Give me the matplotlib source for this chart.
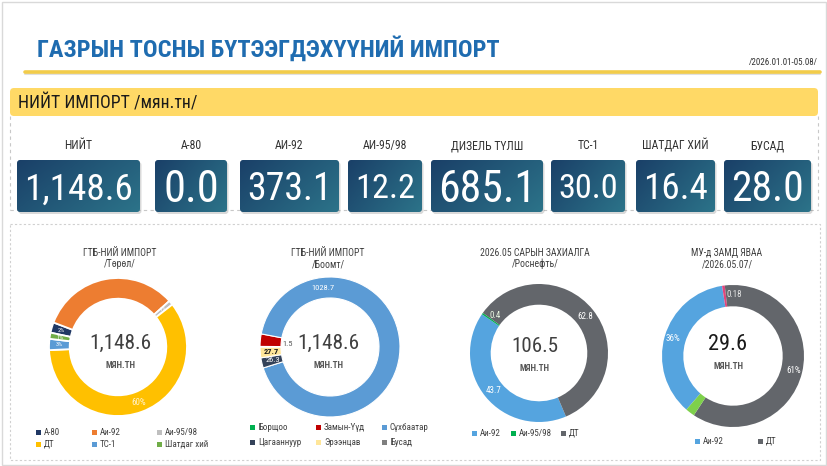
import matplotlib
matplotlib.use('Agg')
import matplotlib.pyplot as plt
from matplotlib import font_manager as fm
from matplotlib.patches import FancyBboxPatch, Rectangle
from matplotlib.colors import LinearSegmentedColormap
import numpy as np

# ---------------- data ----------------
title = 'ГАЗРЫН ТОСНЫ БҮТЭЭГДЭХҮҮНИЙ ИМПОРТ'
period = '/2026.01.01-05.08/'
section = 'НИЙТ ИМПОРТ /мян.тн/'
unit = 'МЯН.ТН'

kpi_labels = ['НИЙТ', 'А-80', 'АИ-92', 'АИ-95/98', 'ДИЗЕЛЬ ТҮЛШ', 'ТС-1', 'ШАТДАГ ХИЙ', 'БУСАД']
kpi_values = [1148.6, 0.0, 373.1, 12.2, 685.1, 30.0, 16.4, 28.0]

type_title = ['ГТБ-НИЙ ИМПОРТ', '/Төрөл/']
type_labels = ['А-80', 'Аи-92', 'Аи-95/98', 'ДТ', 'ТС-1', 'Шатдаг хий']
type_values = [28.0, 373.1, 12.2, 685.1, 30.0, 16.4]
type_total = 1148.6

port_title = ['ГТБ-НИЙ ИМПОРТ', '/Боомт/']
port_labels = ['Борщоо', 'Замын-Үүд', 'Сүхбаатар', 'Цагааннуур', 'Эрээнцав', 'Бусад']
port_values = [1.5, 32.0, 1028.7, 26.3, 27.7, 0.0]
port_total = 1148.6

order_title = ['2026.05 САРЫН ЗАХИАЛГА', '/Роснефть/']
order_labels = ['Аи-92', 'Аи-95/98', 'ДТ']
order_values = [43.7, 0.4, 62.8]
order_total = 106.5

transit_title = ['МУ-д ЗАМД ЯВАА', '/2026.05.07/']
transit_labels = ['Аи-92', 'Бусад', 'ДТ', 'Аи-95/98']
transit_values = [10.7, 0.18, 18.1, 0.62]
transit_legend = ['Аи-92', 'ДТ']
transit_total = 29.6

# ---------------- style ----------------
W, H = 827, 466
avail = {f.name for f in fm.fontManager.ttflist}


def pick(cands, default):
    for c in cands:
        if c in avail:
            return c
    return default


NARROW = pick(['Roboto Condensed', 'Liberation Sans Narrow', 'Arial Narrow',
               'Open Sans Condensed'], 'Roboto')
FAM = [NARROW, 'DejaVu Sans']
BOLDFAM = [pick(['Roboto Condensed', 'Liberation Sans Narrow', 'Roboto'], 'Roboto'), 'DejaVu Sans']

type_colors = ['#203864', '#ED7D31', '#BFBFBF', '#FFC000', '#5B9BD5', '#70AD47']
port_colors = ['#00B050', '#C00000', '#5B9BD5', '#344259', '#FFE699', '#7F7F7F']
order_colors = ['#55A4DF', '#00B050', '#63666B']
transit_colors = ['#55A4DF', '#E0457B', '#63666B', '#7ED04B']

fig = plt.figure(figsize=(W / 100, H / 100), dpi=100)
fig.patch.set_facecolor('white')
ax = fig.add_axes([0, 0, 1, 1])
ax.set_xlim(0, W)
ax.set_ylim(H, 0)
ax.axis('off')
renderer = fig.canvas.get_renderer()


def fit(t, max_w, max_fs):
    t.set_fontsize(max_fs)
    w = t.get_window_extent(renderer).width
    if w > max_w:
        t.set_fontsize(max_fs * max_w / w)
    return t


# page border
ax.add_patch(Rectangle((1.5, 1.5), W - 3, H - 3, fc='none', ec='#D9D9D9', lw=1))

# title
t = ax.text(37, 57, title, color='#1F6CB0', fontweight='bold', ha='left', va='baseline',
            family=BOLDFAM)
fit(t, 463, 18)
ax.text(818, 65, period, ha='right', va='baseline', fontsize=6.5, color='#333333', family=FAM)
ax.plot([25, 820], [73.5, 73.5], color='#000000', alpha=0.12, lw=1.5, solid_capstyle='round')
ax.plot([25, 820], [72, 72], color='#F2CC4A', lw=2.6, solid_capstyle='round')

# section header bar
ax.add_patch(FancyBboxPatch((10, 88), 808, 28, boxstyle='round,pad=0,rounding_size=4',
                            fc='#FFD966', ec='none'))
t = ax.text(18, 108, section, ha='left', va='baseline', color='#1A1A1A', family=FAM)
fit(t, 178, 13)

# dashed panels
dash = dict(color='#C8C8C8', lw=0.8, ls=(0, (3, 3)))
ax.plot([10, 10], [116, 210], **dash)
ax.plot([818, 818], [116, 210], **dash)
ax.plot([10, 818], [210, 210], **dash)
ax.add_patch(Rectangle((10, 224), 810, 236, fc='none', ec='#D0D0D0', lw=0.8, ls=(0, (2, 2))))

# KPI boxes
box_x = [(17, 140), (155, 227), (240, 339), (348, 422), (431, 543), (551, 625), (636, 715), (724, 811)]
box_top, box_h = 160, 52
cmap_box = LinearSegmentedColormap.from_list('box', ['#1A4068', '#2C7389'])
gx, gy = np.meshgrid(np.linspace(0, 1, 60), np.linspace(0, 1, 30))
grad = 0.65 * gx + 0.35 * gy
for (x0, x1), lab, val in zip(box_x, kpi_labels, kpi_values):
    w = x1 - x0
    cx = (x0 + x1) / 2
    ax.add_patch(FancyBboxPatch((x0 + 1.5, box_top + 2), w, box_h,
                                boxstyle='round,pad=0,rounding_size=3',
                                fc='#000000', alpha=0.15, ec='none', zorder=2))
    p = FancyBboxPatch((x0, box_top), w, box_h, boxstyle='round,pad=0,rounding_size=3',
                       fc='none', ec='none', zorder=3)
    ax.add_patch(p)
    im = ax.imshow(grad, extent=(x0, x1, box_top + box_h, box_top), cmap=cmap_box,
                   aspect='auto', origin='upper', zorder=3, interpolation='bilinear')
    im.set_clip_path(p)
    t = ax.text(cx, 0, f'{val:,.1f}', ha='center', va='baseline', color='white',
                family=FAM, zorder=4)
    fit(t, w - 14, 32)
    fs = t.get_fontsize()
    t.set_y(box_top + box_h / 2 + fs * 0.5)
    tl = ax.text(cx, 149, lab, ha='center', va='baseline', color='#333333', family=FAM)
    fit(tl, 200, 8.5)

ax.set_xlim(0, W)
ax.set_ylim(H, 0)

RING = 0.3


def donut(cx, cy, r, values, colors, start, edge_lw):
    a = fig.add_axes([(cx - r) / W, 1 - (cy + r) / H, 2 * r / W, 2 * r / H])
    wedges, _ = a.pie(values, colors=colors, startangle=start, counterclock=False,
                      wedgeprops=dict(width=RING, edgecolor='white', linewidth=edge_lw,
                                      clip_on=False))
    a.set_xlim(-1, 1)
    a.set_ylim(-1, 1)
    a.axis('off')
    return a, wedges


def wlabel(a, w, text, r=0.855, dang=0.0, **kw):
    ang = np.deg2rad((w.theta1 + w.theta2) / 2 + dang)
    a.text(r * np.cos(ang), r * np.sin(ang), text, ha='center', va='center',
           family=FAM, clip_on=False, **kw)


def centre(x, y, total, color, maxw):
    t = ax.text(x, y, f'{total:,.1f}', ha='center', va='baseline', color=color, family=FAM)
    fit(t, maxw, 20)
    ax.text(x, y + 19, unit, ha='center', va='baseline', color='#595959', fontsize=6.5,
            fontweight='bold', family=FAM)


def titles(x, lines):
    ax.text(x, 256, lines[0], ha='center', va='baseline', fontsize=7, color='#404040', family=FAM)
    ax.text(x, 267, lines[1], ha='center', va='baseline', fontsize=7, color='#404040', family=FAM)


def legend(labels, colors, cols_x, rows_y, ncol):
    for i, (lab, col) in enumerate(zip(labels, colors)):
        x = cols_x[i % ncol]
        y = rows_y[i // ncol]
        ax.add_patch(Rectangle((x - 2.5, y - 2.5), 5, 5, fc=col, ec='none'))
        ax.text(x + 6, y + 2.6, lab, ha='left', va='baseline', fontsize=6.5,
                color='#404040', family=FAM)


# ---- chart 1: by type ----
a1, w1 = donut(118, 347, 69, type_values, type_colors, 168, 1.3)
tsum = sum(type_values)
for i, (w, v) in enumerate(zip(w1, type_values)):
    if type_labels[i] == 'Аи-92':
        continue
    pct = f'{v / tsum * 100:.0f}%'
    if v / tsum > 0.2:
        wlabel(a1, w, pct, color='#FFF2CC', fontsize=6.5)
    else:
        wlabel(a1, w, pct, color='white', fontsize=4.5)
titles(120, type_title)
centre(120, 349, type_total, '#404040', 62)
legend(type_labels, type_colors, [38, 94, 159], [432, 444], 3)

# ---- chart 2: by port ----
a2, w2 = donut(330, 347, 70, port_values, port_colors, 180, 0.8)
for w, v, lab in zip(w2, port_values, port_labels):
    if lab == 'Сүхбаатар':
        wlabel(a2, w, f'{v:.1f}', color='white', fontsize=6,
               dang=97 - (w.theta1 + w.theta2) / 2)
    elif lab == 'Эрээнцав':
        wlabel(a2, w, f'{v:.1f}', color='#1A1A1A', fontsize=6, fontweight='bold', r=0.84)
    elif lab == 'Цагааннуур':
        wlabel(a2, w, f'{v:.1f}', color='white', fontsize=6, r=0.84)
    elif lab == 'Борщоо':
        wlabel(a2, w, f'{v:.1f}', color='#595959', fontsize=6, r=0.6, dang=-4)
titles(328, port_title)
centre(328, 349, port_total, '#404040', 62)
legend(port_labels, port_colors, [252, 318, 384], [427, 442], 3)

# ---- chart 3: order ----
a3, w3 = donut(539, 353, 69, order_values, order_colors, -67, 0)
for w, v, lab in zip(w3, order_values, order_labels):
    if lab == 'Аи-95/98':
        wlabel(a3, w, f'{v:.1f}', color='#E8F4E0', fontsize=6.5, dang=-6, r=0.84)
    else:
        wlabel(a3, w, f'{v:.1f}', color='white', fontsize=6.5)
titles(535, order_title)
centre(535, 352, order_total, '#404040', 47)
legend(order_labels, order_colors, [474, 513, 563], [433], 3)

# ---- chart 4: in transit ----
a4, w4 = donut(733, 356, 71, transit_values, transit_colors, -131, 0)
ttot = sum(transit_values)
for w, v, lab in zip(w4, transit_values, transit_labels):
    if lab in transit_legend:
        wlabel(a4, w, f'{v / ttot * 100:.0f}%', color='white', fontsize=6.5, r=0.88)
    elif lab == 'Бусад':
        wlabel(a4, w, f'{v:.2f}', color='#E6E6E6', fontsize=6.5, r=0.86, dang=-9)
titles(727, transit_title)
centre(728, 350, transit_total, '#1A1A1A', 39)
leg_cols = [transit_colors[transit_labels.index(l)] for l in transit_legend]
legend(transit_legend, leg_cols, [697, 760], [441], 2)

fig.savefig('out.png', dpi=100, facecolor='white')
